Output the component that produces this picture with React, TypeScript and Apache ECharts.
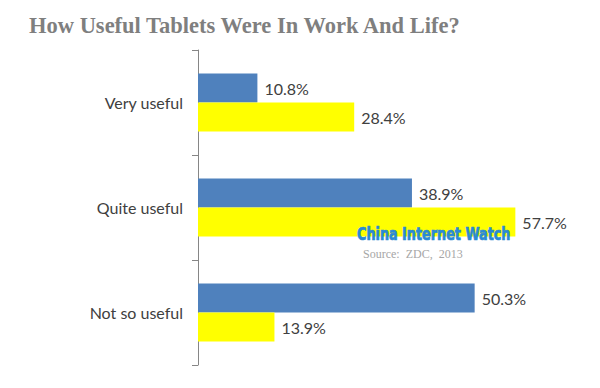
import React, { useEffect, useRef } from "react";
import * as echarts from "echarts";

const categories = ["Very useful", "Quite useful", "Not so useful"];
const seriesBlue = [10.8, 38.9, 50.3];
const seriesYellow = [28.4, 57.7, 13.9];
const titleText = "How Useful Tablets Were In Work And Life?";

export default function App() {
  const ref = useRef<HTMLDivElement>(null);
  useEffect(() => {
    if (!ref.current) return;
    const chart = echarts.init(ref.current, null, { renderer: "svg" });
    chart.setOption({
      animation: false,
      backgroundColor: "#ffffff",
      title: {
        text: titleText,
        left: 24,
        top: 9,
        textStyle: {
          fontFamily: "Liberation Serif",
          fontWeight: "bold",
          fontSize: 22.5,
          color: "#7f7f7f",
        },
      },
      grid: { left: 198, top: 50, width: 330, height: 315 },
      xAxis: {
        type: "value",
        min: 0,
        max: 60,
        show: false,
      },
      yAxis: {
        type: "category",
        data: categories,
        inverse: true,
        axisLine: { show: true, lineStyle: { color: "#868686", width: 1 } },
        axisTick: { show: true, length: 6, lineStyle: { color: "#868686" } },
        axisLabel: {
          margin: 15,
          fontFamily: "Lato",
          fontSize: 16,
          color: "#404040",
        },
        splitLine: { show: false },
      },
      series: [
        {
          name: "Blue",
          type: "bar",
          data: seriesBlue,
          barWidth: 29,
          barGap: "0%",
          itemStyle: { color: "#4f81bd" },
          label: {
            show: true,
            position: "right",
            distance: 7,
            formatter: "{c}%",
            fontFamily: "Lato",
            fontSize: 16,
            color: "#404040",
          },
        },
        {
          name: "Yellow",
          type: "bar",
          data: seriesYellow,
          barWidth: 29,
          barGap: "0%",
          itemStyle: { color: "#ffff00" },
          label: {
            show: true,
            position: "right",
            distance: 7,
            formatter: "{c}%",
            fontFamily: "Lato",
            fontSize: 16,
            color: "#404040",
          },
        },
      ],
      graphic: [
        {
          type: "text",
          x: 357,
          y: 225,
          scaleX: 0.79,
          style: {
            text: "China Internet Watch",
            fontFamily: "DejaVu Sans Condensed",
            fontWeight: "bold",
            fontSize: 18,
            fill: "#2a8ad4",
            stroke: "#2a8ad4",
            lineWidth: 0.7,
          },
          z: 100,
        },
        {
          type: "text",
          x: 363,
          y: 248,
          style: {
            text: "Source:  ZDC,  2013",
            fontFamily: "Liberation Serif",
            fontSize: 12,
            fill: "#a6a6a6",
          },
          z: 100,
        },
      ],
    });
    return () => chart.dispose();
  }, []);
  return <div ref={ref} style={{ width: 600, height: 388, position: "absolute", left: 0, top: 0 }} />;
}
